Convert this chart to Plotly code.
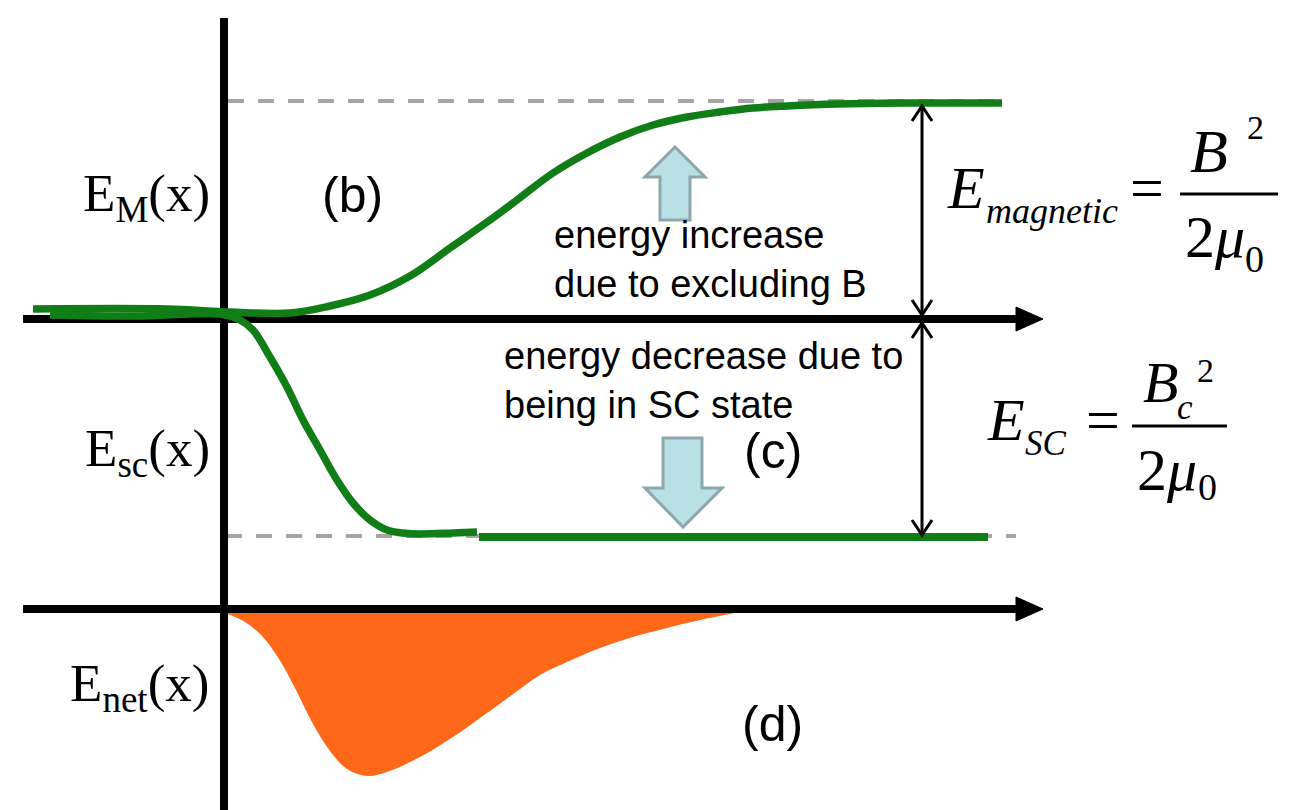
import plotly.graph_objects as go

# ---------------- data (x measured from the vertical axis, energies from their baselines) ----------------
em_x = [-191, -57, 6, 66, 106, 146, 186, 226, 266, 293, 329, 363, 396, 429, 463, 496, 529, 563, 613, 676, 778]
em_val = [10, 10, 7, 6, 13, 24, 43, 71, 99, 119, 146, 166, 182, 194, 202, 207, 211, 213, 215, 216, 216]

esc_x = [-174, -81, -4, 16, 29, 46, 63, 79, 96, 113, 129, 146, 163, 179, 196, 229, 253]
esc_val = [4, 3, 5, -1, -11, -38, -68, -101, -131, -161, -184, -201, -211, -214, -215, -214, -213]
esc_tail_x = [255, 764]
esc_tail_val = [-218, -218]

enet_x = [4, 21, 38, 55, 72, 89, 106, 123, 143, 163, 196, 229, 263, 296, 316, 343, 376, 409, 443, 476, 511]
enet_val = [-1, -9, -23, -46, -77, -111, -138, -156, -163, -159, -144, -124, -100, -76, -62, -49, -35, -24, -15, -7, 0]

# ---------------- styling / geometry ----------------
W, H = 1304, 810
X0 = 224      # pixel column of the vertical axis
Y_TOP = 319   # pixel row of the upper baseline
Y_BOT = 613   # pixel row of the lower baseline
GREEN = "#117d17"
ORANGE = "#ff6719"
GREY = "#a5a5a5"
BFILL = "#b9e0e4"
BLINE = "#8ca8ac"
SERIF = "Liberation Serif"
SANS = "Liberation Sans"


def P(x, y):
    return x / W, 1 - y / H


def path(points, close=True):
    s = ""
    for i, (x, y) in enumerate(points):
        px, py = P(x, y)
        s += ("M" if i == 0 else "L") + f"{px:.5f},{py:.5f} "
    return s + ("Z" if close else "")


def line(x0, y0, x1, y1, color="black", width=3, dash=None, layer="above"):
    a, b = P(x0, y0)
    c, d = P(x1, y1)
    ln = dict(color=color, width=width)
    if dash:
        ln["dash"] = dash
    return dict(type="line", xref="paper", yref="paper", x0=a, y0=b, x1=c, y1=d,
                line=ln, layer=layer)


def poly(points, fill, color, width, layer="above", close=True):
    return dict(type="path", xref="paper", yref="paper", path=path(points, close),
                fillcolor=fill, line=dict(color=color, width=width), layer=layer)


fig = go.Figure()
fig.add_trace(go.Scatter(x=enet_x, y=enet_val, yaxis="y2", mode="lines", fill="tozeroy",
                         fillcolor=ORANGE, line=dict(width=0, shape="spline", smoothing=1.0),
                         hoverinfo="skip"))
fig.add_trace(go.Scatter(x=em_x, y=em_val, mode="lines",
                         line=dict(color=GREEN, width=7.5, shape="spline", smoothing=1.0),
                         hoverinfo="skip"))
fig.add_trace(go.Scatter(x=esc_x, y=esc_val, mode="lines",
                         line=dict(color=GREEN, width=7.5, shape="spline", smoothing=1.0),
                         hoverinfo="skip"))
fig.add_trace(go.Scatter(x=esc_tail_x, y=esc_tail_val, mode="lines",
                         line=dict(color=GREEN, width=8), hoverinfo="skip"))

shapes = []
# dashed reference levels
shapes.append(line(228, 101, 1000, 101, GREY, 4, "16px,14px", "below"))
shapes.append(line(226, 536, 1016, 536, GREY, 4, "16px,14px", "below"))
# axes
shapes.append(line(224, 18, 224, 810, "black", 8, None, "below"))
shapes.append(line(23, 319, 1020, 319, "black", 8, None, "below"))
shapes.append(line(23, 609, 1020, 609, "black", 8, None, "below"))
shapes.append(poly([(1016, 307), (1043, 319), (1016, 331)], "black", "black", 1, "below"))
shapes.append(poly([(1016, 597), (1043, 609), (1016, 621)], "black", "black", 1, "below"))
# double-headed measuring arrows
AX = 922
for top, bot in [(106, 315), (323, 535)]:
    shapes.append(line(AX, top, AX, bot, "black", 3))
    shapes.append(poly([(AX - 10, top + 15), (AX, top), (AX + 10, top + 15)],
                       "rgba(0,0,0,0)", "black", 3, close=False))
    shapes.append(poly([(AX - 10, bot - 15), (AX, bot), (AX + 10, bot - 15)],
                       "rgba(0,0,0,0)", "black", 3, close=False))
# block arrows
shapes.append(poly([(660, 220), (660, 177), (645, 177), (675, 147), (705, 177), (690, 177), (690, 220)],
                   BFILL, BLINE, 3))
shapes.append(poly([(663, 438), (702, 438), (702, 488), (722, 488), (683, 527), (645, 488), (663, 488)],
                   BFILL, BLINE, 3))
# fraction bars
shapes.append(line(1180, 194, 1278, 194, "black", 3))
shapes.append(line(1132, 426, 1227, 426, "black", 3))

annotations = []


def txt(text, x, y, size, family=SANS, xanchor="left", align="left"):
    a, b = P(x, y)
    annotations.append(dict(text=text, x=a, y=b, xref="paper", yref="paper", showarrow=False,
                            xanchor=xanchor, yanchor="middle", align=align,
                            font=dict(family=family, size=size, color="black")))


# axis labels
txt("E<sub>M</sub>(x)", 212, 197, 53, SERIF, "right", "right")
txt("E<sub>sc</sub>(x)", 212, 452, 53, SERIF, "right", "right")
txt("E<sub>net</sub>(x)", 212, 687, 53, SERIF, "right", "right")
# panel labels
txt("(b)", 352, 195, 50, SANS, "center", "center")
txt("(c)", 773, 451, 50, SANS, "center", "center")
txt("(d)", 772, 724, 50, SANS, "center", "center")
# descriptions
txt("energy increase<br>due to excluding B", 552, 259, 38)
txt("energy decrease due to<br>being in SC state", 502, 380, 38)
# formula 1
txt("<i>E</i>", 945, 188, 60, SERIF)
txt("<i>magnetic</i>", 984, 211, 36, SERIF)
txt("=", 1128, 188, 60, SERIF)
txt("<i>B</i>", 1188, 151, 62, SERIF)
txt("2", 1245, 128, 34, SERIF)
txt("2<i>μ</i>", 1183, 237, 60, SERIF)
txt("0", 1243, 259, 38, SERIF)
# formula 2
txt("<i>E</i>", 985, 420, 60, SERIF)
txt("<i>SC</i>", 1023, 443, 35, SERIF)
txt("=", 1084, 420, 60, SERIF)
txt("<i>B</i>", 1141, 383, 58, SERIF)
txt("<i>c</i>", 1175, 408, 35, SERIF)
txt("2", 1195, 370, 34, SERIF)
txt("2<i>μ</i>", 1135, 470, 60, SERIF)
txt("0", 1196, 487, 38, SERIF)

fig.update_layout(
    width=W, height=H,
    margin=dict(l=0, r=0, t=0, b=0, pad=0),
    paper_bgcolor="white", plot_bgcolor="white",
    showlegend=False,
    xaxis=dict(range=[-X0, W - X0], visible=False, fixedrange=True),
    yaxis=dict(range=[Y_TOP - H, Y_TOP], visible=False, fixedrange=True),
    yaxis2=dict(range=[Y_BOT - H, Y_BOT], overlaying="y", visible=False, fixedrange=True),
    shapes=shapes,
    annotations=annotations,
)

fig.write_html("out.html", config={"displayModeBar": False},
               post_script="document.body.style.margin='0';")
